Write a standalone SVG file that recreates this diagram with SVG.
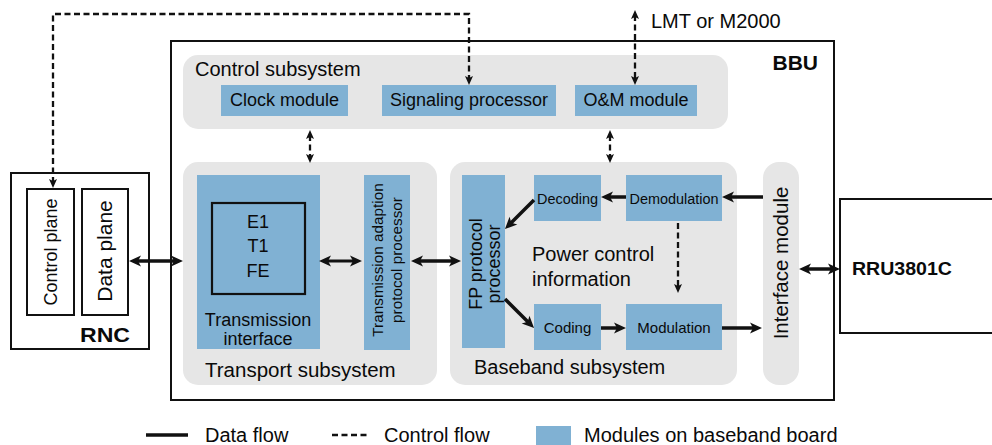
<svg xmlns="http://www.w3.org/2000/svg" width="992" height="445" viewBox="0 0 992 445">
  <style>
    text { font-family: "Liberation Sans", Arial, sans-serif; fill: #0a0a0a; }
    .sub { fill: #e6e6e6; }
    .mod { fill: #80b1d3; }
    .box { fill: #fff; stroke: #111; stroke-width: 2; }
    .bold { font-weight: bold; }
    .data { stroke: #111; stroke-width: 3.5; fill: none; }
    .data-thin { stroke: #111; stroke-width: 3; fill: none; }
    .ctrl { stroke: #111; stroke-width: 2.3; fill: none; stroke-dasharray: 6 3.5; }
  </style>
  <defs>
    <marker id="arrow" viewBox="-7 -6 14 12" refX="0" refY="0" markerWidth="14" markerHeight="12" markerUnits="userSpaceOnUse" orient="auto-start-reverse">
      <path d="M6,0 L-6,-5.5 L-3,0 L-6,5.5 Z" fill="#111"/>
    </marker>
    <marker id="arrow-s" viewBox="-6 -5 12 10" refX="0" refY="0" markerWidth="12" markerHeight="10" markerUnits="userSpaceOnUse" orient="auto-start-reverse">
      <path d="M5,0 L-4,-4 L-2,0 L-4,4 Z" fill="#111"/>
    </marker>
  </defs>

  <!-- BBU enclosure -->
  <g id="bbu">
    <rect class="box" x="171" y="41" width="663" height="359"/>
    <text class="bold" x="818" y="70" font-size="21" text-anchor="end">BBU</text>
  </g>

  <!-- Control subsystem -->
  <g id="control-subsystem">
    <rect class="sub" x="183" y="55" width="545" height="74" rx="15"/>
    <text x="195" y="76" font-size="20">Control subsystem</text>
  </g>
  <g id="clock-module">
    <rect class="mod" x="221" y="85" width="127" height="31"/>
    <text x="284.5" y="106" font-size="18" text-anchor="middle">Clock module</text>
  </g>
  <g id="signaling-processor">
    <rect class="mod" x="382" y="85" width="174" height="31"/>
    <text x="469" y="106" font-size="18" text-anchor="middle">Signaling processor</text>
  </g>
  <g id="om-module">
    <rect class="mod" x="575" y="85" width="122" height="31"/>
    <text x="636" y="106" font-size="18" text-anchor="middle">O&amp;M module</text>
  </g>
  <g id="lmt">
    <text x="651" y="28" font-size="20">LMT or M2000</text>
  </g>

  <!-- Transport subsystem -->
  <g id="transport-subsystem">
    <rect class="sub" x="183" y="162" width="254" height="223" rx="15"/>
    <text x="205" y="377" font-size="20.5">Transport subsystem</text>
  </g>
  <g id="transmission-interface">
    <rect class="mod" x="197" y="175" width="123" height="174"/>
    <rect x="212" y="203" width="93" height="91" fill="none" stroke="#111" stroke-width="2.2"/>
    <text x="258" y="228" font-size="18" text-anchor="middle">E1</text>
    <text x="258" y="252" font-size="18" text-anchor="middle">T1</text>
    <text x="258" y="277" font-size="18" text-anchor="middle">FE</text>
    <text x="258" y="326" font-size="18" text-anchor="middle">Transmission</text>
    <text x="258" y="345" font-size="18" text-anchor="middle">interface</text>
  </g>
  <g id="transmission-adaption">
    <rect class="mod" x="364" y="175" width="46" height="175"/>
    <text transform="translate(383,260) rotate(-90)" font-size="15.3" text-anchor="middle">Transmission adaption</text>
    <text transform="translate(402,260) rotate(-90)" font-size="15.3" text-anchor="middle">protocol processor</text>
  </g>

  <!-- Baseband subsystem -->
  <g id="baseband-subsystem">
    <rect class="sub" x="450" y="162" width="287" height="223" rx="15"/>
    <text x="474" y="374" font-size="20">Baseband subsystem</text>
    <text x="532" y="261" font-size="20">Power control</text>
    <text x="532" y="286" font-size="20">information</text>
  </g>
  <g id="fp-processor">
    <rect class="mod" x="462" y="175" width="43" height="173"/>
    <text transform="translate(482,264) rotate(-90)" font-size="18" text-anchor="middle">FP protocol</text>
    <text transform="translate(500,264) rotate(-90)" font-size="18" text-anchor="middle">processor</text>
  </g>
  <g id="decoding">
    <rect class="mod" x="534" y="175" width="67" height="46"/>
    <text x="567.5" y="204" font-size="15.5" text-anchor="middle" textLength="61" lengthAdjust="spacingAndGlyphs">Decoding</text>
  </g>
  <g id="demodulation">
    <rect class="mod" x="626" y="175" width="96" height="46"/>
    <text x="674" y="204" font-size="15.5" text-anchor="middle" textLength="89" lengthAdjust="spacingAndGlyphs">Demodulation</text>
  </g>
  <g id="coding">
    <rect class="mod" x="534" y="304" width="67" height="46"/>
    <text x="567.5" y="333" font-size="15" text-anchor="middle">Coding</text>
  </g>
  <g id="modulation">
    <rect class="mod" x="626" y="304" width="96" height="46"/>
    <text x="674" y="333" font-size="15" text-anchor="middle">Modulation</text>
  </g>

  <!-- Interface module -->
  <g id="interface-module">
    <rect class="sub" x="763" y="162" width="36" height="223" rx="16"/>
    <text transform="translate(788,263) rotate(-90)" font-size="20.5" text-anchor="middle">Interface module</text>
  </g>

  <!-- RNC -->
  <g id="rnc">
    <rect class="box" x="11" y="173" width="138" height="176"/>
    <rect class="box" x="27" y="189" width="47" height="126"/>
    <rect class="box" x="82" y="189" width="46" height="126"/>
    <text transform="translate(57,252) rotate(-90)" font-size="18" text-anchor="middle">Control plane</text>
    <text transform="translate(112,251) rotate(-90)" font-size="21" text-anchor="middle">Data plane</text>
    <text class="bold" x="130" y="342" font-size="21" text-anchor="end" textLength="50" lengthAdjust="spacingAndGlyphs">RNC</text>
  </g>

  <!-- RRU -->
  <g id="rru">
    <rect class="box" x="840" y="199" width="160" height="134"/>
    <text class="bold" x="852" y="275" font-size="19" textLength="100" lengthAdjust="spacingAndGlyphs">RRU3801C</text>
  </g>

  <!-- Connectors -->
  <g id="connectors">
    <!-- control flow -->
    <path class="ctrl" d="M53,183 L53,14 L469,14 L469,80" marker-start="url(#arrow-s)" marker-end="url(#arrow-s)"/>
    <line class="ctrl" x1="635" y1="15" x2="635" y2="80" marker-start="url(#arrow-s)" marker-end="url(#arrow-s)"/>
    <line class="ctrl" x1="310" y1="135" x2="310" y2="158" stroke-dasharray="4 3" marker-start="url(#arrow-s)" marker-end="url(#arrow-s)"/>
    <line class="ctrl" x1="610" y1="135" x2="610" y2="158" stroke-dasharray="4 3" marker-start="url(#arrow-s)" marker-end="url(#arrow-s)"/>
    <line class="ctrl" x1="678" y1="223" x2="678" y2="288" marker-end="url(#arrow-s)"/>
    <!-- data flow -->
    <line class="data" x1="135" y1="261" x2="177" y2="261" marker-start="url(#arrow)" marker-end="url(#arrow)"/>
    <line class="data-thin" x1="325" y1="261" x2="356" y2="261" marker-start="url(#arrow)" marker-end="url(#arrow)"/>
    <line class="data" x1="417" y1="261" x2="455" y2="261" marker-start="url(#arrow)" marker-end="url(#arrow)"/>
    <line class="data" x1="763" y1="197" x2="728" y2="197" marker-end="url(#arrow)"/>
    <line class="data" x1="626" y1="197" x2="607" y2="197" marker-end="url(#arrow)"/>
    <line class="data" x1="534" y1="200" x2="509.2" y2="224.8" marker-end="url(#arrow)"/>
    <line class="data" x1="505" y1="299" x2="529.8" y2="323.8" marker-end="url(#arrow)"/>
    <line class="data" x1="601" y1="328" x2="620" y2="328" marker-end="url(#arrow)"/>
    <line class="data" x1="722" y1="328" x2="756" y2="328" marker-end="url(#arrow)"/>
    <line class="data" x1="805" y1="269" x2="834" y2="269" marker-start="url(#arrow)" marker-end="url(#arrow)"/>
  </g>

  <!-- Legend -->
  <g id="legend">
    <line class="data" x1="146" y1="435" x2="188" y2="435"/>
    <text x="205" y="442" font-size="20">Data flow</text>
    <line class="ctrl" x1="332" y1="435" x2="370" y2="435" stroke-dasharray="7 3.5"/>
    <text x="384" y="442" font-size="20">Control flow</text>
    <rect class="mod" x="536" y="426" width="35" height="19"/>
    <text x="584" y="442" font-size="20">Modules on baseband board</text>
  </g>
</svg>
